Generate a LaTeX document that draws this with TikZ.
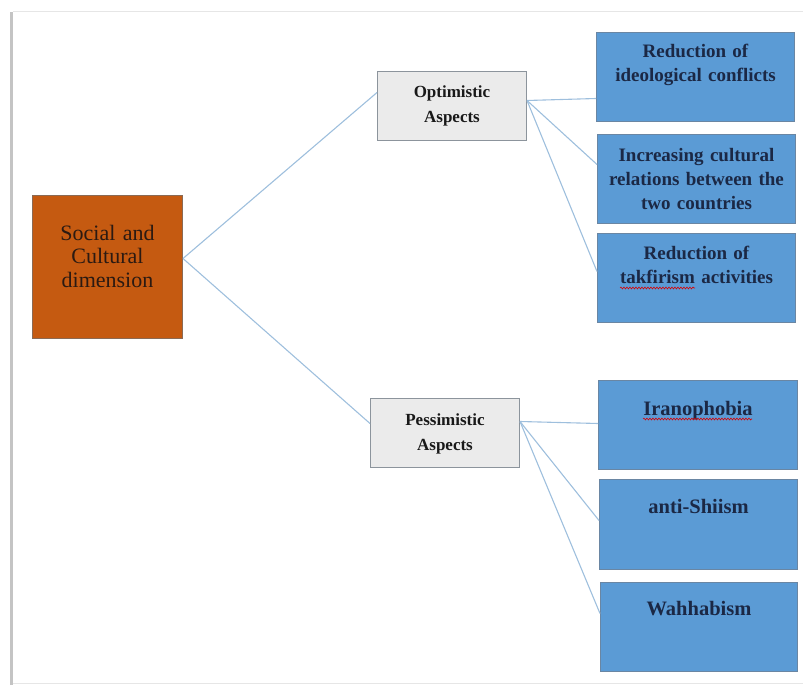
\documentclass[tikz,border=0pt]{standalone}
\usepackage{fontspec}
\setmainfont{Liberation Serif}
\usetikzlibrary{decorations.pathmorphing}
\definecolor{orangefill}{HTML}{C55A11}
\definecolor{orangeedge}{HTML}{8A6A55}
\definecolor{bluefill}{HTML}{5B9BD5}
\definecolor{blueedge}{HTML}{6A86A3}
\definecolor{grayfill}{HTML}{EBEBEB}
\definecolor{grayedge}{HTML}{8C949C}
\definecolor{linkcol}{HTML}{9EBFDD}
\definecolor{navytext}{HTML}{1B2845}
\definecolor{darktext}{HTML}{2B1A12}
\definecolor{frameshade}{HTML}{C4C4C4}
\definecolor{frameline}{HTML}{E6E6E6}
\begin{document}
\begin{tikzpicture}[x=1pt,y=-1pt,
  box/.style={draw, rectangle, inner sep=0pt, anchor=north west, line width=1pt},
  rootbox/.style={box, fill=orangefill, draw=orangeedge, minimum width=150pt, minimum height=143pt},
  midbox/.style={box, fill=grayfill, draw=grayedge, minimum width=149pt, minimum height=69pt},
  leafbox/.style={box, fill=bluefill, draw=blueedge, minimum width=198pt, minimum height=89pt},
  link/.style={draw=linkcol, line width=1.1pt},
  lab/.style={anchor=base, align=center, inner sep=0pt},
  roottext/.style={lab, text width=140pt, text=darktext, font=\fontsize{22}{23.5}\selectfont},
  midtext/.style={lab, text width=140pt, text=black!90, font=\bfseries\fontsize{17}{25}\selectfont},
  leaftext/.style={lab, text width=190pt, text=navytext, font=\bfseries\fontsize{19}{24}\selectfont},
  leafbig/.style={leaftext, font=\bfseries\fontsize{20.5}{24}\selectfont},
  squiggle/.style={draw=red!85!black, line width=0.6pt, decorate, decoration={snake, amplitude=0.9pt, segment length=3pt}}
]
\useasboundingbox (0,0) rectangle (803,685);
% page frame
\fill[frameshade] (10,12) rectangle (13,685);
\draw[frameline, line width=1pt] (13,12) -- (803,12);
\draw[frameline, line width=1pt] (13,683) -- (803,683);

% boxes
\node[rootbox] (soc) at (32,195) {};
\node[midbox] (opt) at (377,71) {};
\node[midbox] (pes) at (370,398) {};
\node[leafbox] (r1) at (596,32) {};
\node[leafbox] (r2) at (597,134) {};
\node[leafbox] (r3) at (597,233) {};
\node[leafbox, minimum width=199pt] (r4) at (598,380) {};
\node[leafbox, minimum height=90pt] (r5) at (599,479) {};
\node[leafbox, minimum width=197pt] (r6) at (600,582) {};

% texts
\node[roottext] (socT) at ([yshift=-45pt]soc.north) {Social and\\Cultural\\dimension};
\node[midtext] (optT) at ([yshift=-26pt]opt.north) {Optimistic\\Aspects};
\node[midtext] (pesT) at ([yshift=-27pt]pes.north) {Pessimistic\\Aspects};
\node[leaftext] (r1T) at ([yshift=-26pt]r1.north) {Reduction of\\ideological conflicts};
\node[leaftext] (r2T) at ([yshift=-27pt]r2.north) {Increasing cultural\\relations between the\\two countries};
\node[leaftext] (r3T) at ([yshift=-26pt]r3.north) {Reduction of\\takfirism activities};
\node[leafbig] (r4T) at ([yshift=-35pt]r4.north) {Iranophobia};
\node[leafbig] (r5T) at ([yshift=-34pt]r5.north) {anti-Shiism};
\node[leafbig] (r6T) at ([yshift=-33pt]r6.north) {Wahhabism};

% spell-check underlines
\draw[squiggle] (620,288) -- (695,288);
\draw[squiggle] (643,419) -- (752,419);

% connectors
\draw[link] ([yshift=8.5pt]soc.east) -- ([yshift=13.5pt]opt.west);
\draw[link] ([yshift=8.5pt]soc.east) -- ([yshift=9.5pt]pes.west);
\draw[link] ([yshift=5.5pt]opt.east) -- ([yshift=-21.5pt]r1.west);
\draw[link] ([yshift=5.5pt]opt.east) -- ([yshift=14.5pt]r2.west);
\draw[link] ([yshift=5.5pt]opt.east) -- ([yshift=6.5pt]r3.west);
\draw[link] ([yshift=11.5pt]pes.east) -- ([yshift=1.5pt]r4.west);
\draw[link] ([yshift=11.5pt]pes.east) -- ([yshift=4pt]r5.west);
\draw[link] ([yshift=11.5pt]pes.east) -- ([yshift=13.5pt]r6.west);
\end{tikzpicture}
\end{document}
